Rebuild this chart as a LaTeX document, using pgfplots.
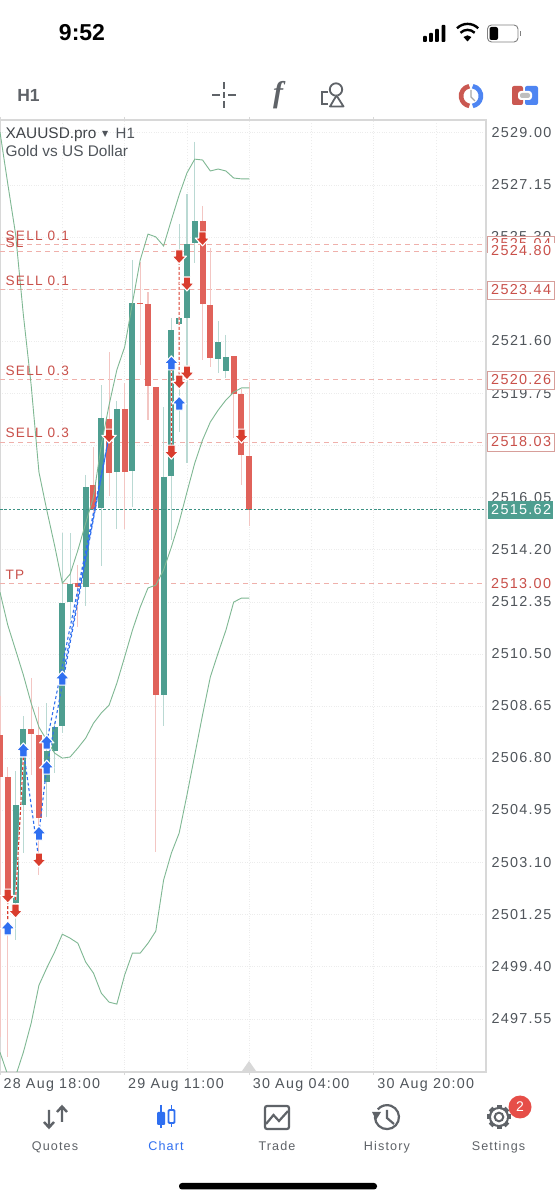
\documentclass[border=0pt]{standalone}
\usepackage{pgfplots}
\usepackage{fontspec}
\pgfplotsset{compat=1.18}
\setmainfont{Liberation Sans}
\newfontfamily\spaced[LetterSpace=9]{Liberation Sans}
\newfontfamily\dejavu{DejaVu Sans}
\newfontfamily\serifit{Liberation Serif}
\definecolor{cgreen}{HTML}{4E9E90}
\definecolor{cred}{HTML}{E0625A}
\definecolor{wgreen}{HTML}{BAD9D3}
\definecolor{wred}{HTML}{F3C6C3}
\definecolor{band}{HTML}{7FB893}
\definecolor{lastp}{HTML}{3D9284}
\definecolor{arrred}{HTML}{D93D2E}
\definecolor{arrblue}{HTML}{2F6FF0}
\definecolor{lab}{HTML}{C9504A}
\definecolor{dashc}{HTML}{EFB0AB}
\definecolor{txt}{HTML}{50555B}
\definecolor{ui}{HTML}{5F6368}
\definecolor{framec}{HTML}{D8D8D8}
\definecolor{gridc}{HTML}{ECECEC}
\pgfdeclareplotmark{arrdown}{%
  \pgfsetlinewidth{1.1pt}\pgfsetroundjoin
  \pgfpathmoveto{\pgfqpoint{-3.7pt}{7pt}}\pgfpathlineto{\pgfqpoint{3.7pt}{7pt}}
  \pgfpathlineto{\pgfqpoint{3.7pt}{0.8pt}}\pgfpathlineto{\pgfqpoint{7.2pt}{0.8pt}}
  \pgfpathlineto{\pgfqpoint{0pt}{-7pt}}\pgfpathlineto{\pgfqpoint{-7.2pt}{0.8pt}}
  \pgfpathlineto{\pgfqpoint{-3.7pt}{0.8pt}}\pgfpathclose\pgfusepathqfillstroke}
\pgfdeclareplotmark{arrup}{%
  \pgfsetlinewidth{1.1pt}\pgfsetroundjoin
  \pgfpathmoveto{\pgfqpoint{-3.7pt}{-7pt}}\pgfpathlineto{\pgfqpoint{3.7pt}{-7pt}}
  \pgfpathlineto{\pgfqpoint{3.7pt}{-0.8pt}}\pgfpathlineto{\pgfqpoint{7.2pt}{-0.8pt}}
  \pgfpathlineto{\pgfqpoint{0pt}{7pt}}\pgfpathlineto{\pgfqpoint{-7.2pt}{-0.8pt}}
  \pgfpathlineto{\pgfqpoint{-3.7pt}{-0.8pt}}\pgfpathclose\pgfusepathqfillstroke}
% wicks: x y, pairs separated by nan
\pgfplotstableread{
x y
2 2506.35
2 2500.35
nan nan
3 2508.30
3 2503.44
nan nan
6 2508.76
6 2504.72
nan nan
7 2508.10
7 2506.28
nan nan
8 2514.80
8 2507.70
nan nan
9 2514.80
9 2511.71
nan nan
11 2516.86
11 2512.21
nan nan
13 2520.05
13 2513.63
nan nan
15 2519.50
15 2514.94
nan nan
17 2524.49
17 2515.72
nan nan
21 2519.27
21 2507.95
nan nan
22 2522.43
22 2514.55
nan nan
23 2525.77
23 2518.38
nan nan
24 2526.83
24 2517.28
nan nan
25 2528.68
25 2524.38
nan nan
28 2522.32
28 2520.48
nan nan
29 2521.83
29 2520.30
}\wickgreen
\pgfplotstableread{
x y
0 2509.00
0 2496.90
nan nan
1 2506.49
1 2496.20
nan nan
4 2509.65
4 2506.21
nan nan
5 2508.62
5 2502.66
nan nan
10 2513.65
10 2511.46
nan nan
12 2517.85
12 2515.44
nan nan
14 2521.22
14 2516.11
nan nan
16 2520.12
16 2514.94
nan nan
18 2524.42
18 2520.76
nan nan
19 2523.35
19 2518.81
nan nan
20 2519.98
20 2503.47
nan nan
26 2526.41
26 2520.94
nan nan
27 2524.92
27 2520.69
nan nan
30 2521.08
30 2518.17
nan nan
31 2519.90
31 2516.50
nan nan
32 2520.16
32 2515.05
}\wickred
\pgfplotstableread{
x y
2 2505.14
2 2501.66
nan nan
3 2507.84
3 2505.14
nan nan
6 2507.06
6 2505.96
nan nan
7 2507.91
7 2507.06
nan nan
8 2512.31
8 2507.95
nan nan
9 2512.99
9 2512.35
nan nan
11 2516.43
11 2512.88
nan nan
13 2518.88
13 2515.69
nan nan
15 2519.20
15 2516.96
nan nan
17 2522.96
17 2517.00
nan nan
21 2516.79
21 2509.05
nan nan
22 2522.00
22 2516.82
nan nan
23 2522.43
23 2522.22
nan nan
24 2525.06
24 2522.43
nan nan
25 2525.87
25 2525.09
nan nan
28 2521.58
28 2520.98
nan nan
29 2521.05
29 2520.55
}\bodygreen
\pgfplotstableread{
x y
0 2507.63
0 2506.14
nan nan
1 2506.14
1 2502.13
nan nan
4 2507.84
4 2507.66
nan nan
5 2507.63
5 2504.68
nan nan
10 2513.02
10 2512.88
nan nan
12 2516.50
12 2515.65
nan nan
14 2518.85
14 2516.93
nan nan
16 2519.20
16 2516.96
nan nan
18 2522.96
18 2522.93
nan nan
19 2522.93
19 2520.02
nan nan
20 2519.98
20 2509.05
nan nan
26 2525.87
26 2522.93
nan nan
27 2522.89
27 2521.01
nan nan
30 2521.08
30 2519.73
nan nan
31 2519.73
31 2517.57
nan nan
32 2517.53
32 2515.62
}\bodyred
\pgfplotstableread{
i upper middle lower
0 2529.03 2512.70 2496.37
1 2527.19 2511.53 2495.56
2 2525.41 2510.65 2495.52
3 2522.54 2509.76 2496.37
4 2520.05 2508.76 2497.40
5 2516.96 2507.91 2498.75
6 2515.62 2507.45 2499.36
7 2514.37 2506.99 2499.92
8 2513.02 2506.81 2500.56
9 2513.34 2506.85 2500.42
10 2514.19 2507.17 2500.24
11 2515.15 2507.52 2499.57
12 2516.08 2508.05 2499.18
13 2517.92 2508.41 2498.47
14 2519.34 2508.69 2498.15
15 2520.59 2509.47 2498.08
16 2521.40 2510.40 2499.11
17 2522.96 2511.35 2499.89
18 2524.49 2512.17 2499.89
19 2525.41 2512.85 2500.24
20 2525.31 2512.95 2500.67
21 2524.99 2513.49 2502.48
22 2525.91 2514.30 2503.44
23 2526.80 2515.19 2504.15
24 2527.58 2516.25 2505.50
25 2528.07 2517.28 2506.92
26 2528.04 2518.10 2508.34
27 2527.65 2518.74 2509.69
28 2527.72 2519.16 2510.54
29 2527.65 2519.52 2511.35
30 2527.40 2519.80 2512.35
31 2527.37 2519.95 2512.49
32 2527.37 2519.95 2512.49
}\bands
\pgfplotstableread{
x y
1 2501.91
1 2500.78
nan nan
3 2506.85
2 2501.77
nan nan
23 2524.60
23 2520.16
nan nan
22 2520.84
22 2517.67
}\tradered
\pgfplotstableread{
x y
3 2507.10
5 2503.19
nan nan
5 2504.15
6 2506.49
nan nan
6 2507.38
14 2518.24
nan nan
6 2506.49
14 2518.24
nan nan
8 2509.65
14 2518.24
}\tradeblue
\pgfplotstableread{
x y
23 2524.60
24 2523.64
26 2525.24
24 2520.48
23 2520.16
14 2518.24
22 2517.67
31 2518.24
1 2501.91
2 2501.38
5 2503.19
}\marksred
\pgfplotstableread{
x y
22 2520.84
23 2519.41
3 2507.10
5 2504.15
6 2507.38
6 2506.49
1 2500.78
8 2509.65
}\marksblue
\begin{document}
\begin{tikzpicture}[x=1pt,y=1pt]
\useasboundingbox (0,0) rectangle (555,1200);
\fill[white] (0,0) rectangle (555,1200);
\begin{axis}[
  at={(0pt,128pt)},anchor=south west,scale only axis,
  width=486pt,height=952pt,
  xmin=0,xmax=62.39,ymin=2495.67,ymax=2529.46,
  clip=true,unbounded coords=jump,
  axis line style={draw=framec,line width=1.8pt},
  xtick={0,16,32,48},
  xticklabels={28 Aug 18:00,29 Aug 11:00,30 Aug 04:00,30 Aug 20:00},
  minor xtick={8,24,40,56},
  minor tick length=0pt,
  xminorgrids,
  minor grid style={draw=gridc,dotted,line width=0.9pt},
  ytick={2529.00,2527.15,2525.30,2523.45,2521.60,2519.75,2517.90,2516.05,2514.20,2512.35,2510.50,2508.65,2506.80,2504.95,2503.10,2501.25,2499.40,2497.55},
  yticklabel pos=right,
  ymajorgrids,xmajorgrids,
  grid style={draw=gridc,dotted,line width=0.9pt},
  x tick label style={font=\spaced\fontsize{14.3}{15}\selectfont,text=txt,anchor=north west,xshift=0pt,yshift=-1pt,inner ysep=2pt},
  y tick label style={font=\spaced\fontsize{14.4}{15}\selectfont,text=txt,anchor=west,xshift=-1pt,yshift=0.5pt},
  yticklabel style={/pgf/number format/fixed,/pgf/number format/fixed zerofill,/pgf/number format/precision=2,/pgf/number format/1000 sep={},/pgf/number format/assume math mode=true},
  ytick style={draw=none},
  xtick style={draw=framec,line width=1pt},
  major tick length=3pt,tick align=outside,
]
% price lines
\addplot[dashc,dash pattern=on 5pt off 4pt,line width=0.9pt] coordinates {(0,2525.04)(62.39,2525.04)};
\addplot[dashc,dash pattern=on 5pt off 4pt,line width=0.9pt] coordinates {(0,2524.80)(62.39,2524.80)};
\addplot[dashc,dash pattern=on 5pt off 4pt,line width=0.9pt] coordinates {(0,2523.44)(62.39,2523.44)};
\addplot[dashc,dash pattern=on 5pt off 4pt,line width=0.9pt] coordinates {(0,2520.26)(62.39,2520.26)};
\addplot[dashc,dash pattern=on 5pt off 4pt,line width=0.9pt] coordinates {(0,2518.03)(62.39,2518.03)};
\addplot[dashc,dash pattern=on 5pt off 4pt,line width=0.9pt] coordinates {(0,2513.00)(62.39,2513.00)};
% wicks
\addplot[wgreen,line width=1.1pt] table {\wickgreen};
\addplot[wred,line width=1.1pt] table {\wickred};
% bodies
\addplot[cgreen,line width=6pt] table {\bodygreen};
\addplot[cred,line width=6pt] table {\bodyred};
% bands
\addplot[band,line width=0.9pt] table[x=i,y=upper] {\bands};
\addplot[band,line width=0.9pt] table[x=i,y=middle] {\bands};
\addplot[band,line width=0.9pt] table[x=i,y=lower] {\bands};
% last price
\addplot[lastp,dash pattern=on 2.5pt off 1.8pt,line width=1pt] coordinates {(0,2515.62)(62.39,2515.62)};
% trades
\addplot[white,line width=1.6pt] table {\tradered};
\addplot[arrred,dash pattern=on 3pt off 2pt,line width=1.1pt] table {\tradered};
\addplot[arrblue,dash pattern=on 3pt off 2.5pt,line width=1.1pt] table {\tradeblue};
\addplot[only marks,mark=arrup,mark options={fill=arrblue,draw=white}] table {\marksblue};
\addplot[only marks,mark=arrdown,mark options={fill=arrred,draw=white}] table {\marksred};
\end{axis}
\begin{scope}[shift={(0pt,1200pt)},y=-1pt]
  % chart header
  \node[anchor=base west,inner sep=0,text=txt!80!black,font=\fontsize{15.4}{16}\selectfont] at (5.5,138.5) {XAUUSD.pro};
  \node[anchor=base west,inner sep=0,text=txt,font=\dejavu\fontsize{8}{9}\selectfont] at (102,137) {▼};
  \node[anchor=base west,inner sep=0,text=txt,font=\fontsize{15}{16}\selectfont] at (115.5,138.5) {H1};
  \node[anchor=base west,inner sep=0,text=txt,font=\fontsize{15.4}{16}\selectfont] at (5.5,156.5) {Gold vs US Dollar};
  % order labels
  \foreach \yy/\lbl in {241/SELL 0.1,286/SELL 0.1,375.5/SELL 0.3,438/SELL 0.3,580/TP}{
    \node[anchor=base west,inner sep=0,text=lab,font=\spaced\fontsize{13.6}{15}\selectfont] at (5.5,\yy) {\lbl};}
  \node[anchor=base west,inner sep=0,text=lab,font=\spaced\fontsize{13.6}{15}\selectfont] at (5.5,248) {SL};
  % price boxes
  \fill[white] (488,230) rectangle (555,262);
  \node[anchor=west,inner sep=0,text=txt,font=\spaced\fontsize{14.4}{15}\selectfont] at (491,237) {2525.30};
  \draw[dashc!90!black,fill=white,line width=0.7pt] (487.5,236) rectangle (554,252);
  \begin{scope}
    \clip (488,236) rectangle (555,243.5);
    \node[anchor=west,inner sep=0,text=lab,font=\spaced\fontsize{14.4}{15}\selectfont] at (491,244) {2525.04};
  \end{scope}
  \fill[white] (488,243.5) rectangle (555,262);
  \node[anchor=west,inner sep=0,text=lab,font=\spaced\fontsize{14.4}{15}\selectfont] at (491,251) {2524.80};
  \foreach \yy/\lbl in {290/2523.44,380/2520.26,442/2518.03}{
    \draw[dashc!90!black,fill=white,line width=0.7pt] (487.5,\yy-9) rectangle (554.5,\yy+9);
    \node[anchor=west,inner sep=0,text=lab,font=\spaced\fontsize{14.4}{15}\selectfont] at (491,\yy) {\lbl};}
  \fill[white] (488,575) rectangle (555,593);
  \node[anchor=west,inner sep=0,text=lab,font=\spaced\fontsize{14.4}{15}\selectfont] at (491,584) {2513.00};
  \fill[cgreen] (487.5,501) rectangle (553,519);
  \node[anchor=west,inner sep=0,text=white,font=\spaced\fontsize{14.4}{15}\selectfont] at (491,510) {2515.62};
  % triangle
  \fill[framec] (249,1061) -- (256,1071) -- (242,1071) -- cycle;
  % status bar
  \node[anchor=center,inner sep=0,text=black,font=\bfseries\fontsize{23}{24}\selectfont] at (82,33) {9:52};
  \foreach \xx/\hh in {423/6,429/9,435/13,441.5/17}{\fill[black,rounded corners=0.8pt] (\xx,42)rectangle(\xx+3.8,42-\hh);}
  % wifi
  \fill[black] (467.5,41.5) -- (463.5,37) arc[start angle=225,end angle=315,radius=5.6] -- cycle;
  \draw[black,line width=2.4pt] (460.5,32.8) arc[start angle=225,end angle=315,radius=10];
  \draw[black,line width=2.4pt] (457,28.3) arc[start angle=225,end angle=315,radius=15];
  % battery
  \draw[gray,line width=0.9pt,rounded corners=4pt] (487.5,25)rectangle(518,42);
  \fill[black,rounded corners=2pt] (489.5,27)rectangle(498,40);
  \fill[gray] (519.5,31)rectangle(520.5,36);
  % toolbar
  \node[anchor=center,inner sep=0,text=ui,font=\bfseries\fontsize{17.5}{18}\selectfont] at (28.5,95) {H1};
  \draw[ui,line width=1.8pt] (212,95)--(220,95) (228,95)--(236,95) (224,82.5)--(224,89) (224,92)--(224,98) (224,101)--(224,108);
  \node[anchor=center,inner sep=0,text=ui,font=\serifit\bfseries\itshape\fontsize{30}{31}\selectfont] at (278,95) {f};
  \draw[ui,line width=1.8pt] (328,92)--(322,92)--(322,104)--(328,104);
  \draw[ui,line width=1.8pt] (336,89.5) circle[radius=6.2];
  \fill[white] (336.5,94) -- (345,107.5) -- (328.5,107.5) -- cycle;
  \draw[ui,line width=1.8pt,line join=round] (330,106.5)--(336.5,95.5)--(343.5,106.5)--cycle;
  % clock icon
  \draw[arrblue!85!white,line width=4.6pt] (472.7,86.2) arc[start angle=-80,end angle=80,radius=10];
  \draw[cred!90!black,line width=4.6pt] (469.3,86.2) arc[start angle=260,end angle=100,radius=10];
  \draw[gray!70,line width=1.2pt] (471,90)--(471,97)--(475,101);
  % right icon
  \fill[cred!90!black,rounded corners=2pt] (512,86)--(523,86)--(523,105)--(512,105)--cycle;
  \fill[arrblue!85!white,rounded corners=2pt] (525,86)--(538,86)--(538,105)--(525,105)--cycle;
  \fill[white,rounded corners=3pt] (518,91)rectangle(532,100);
  \fill[gray!50,rounded corners=2pt] (520,93)rectangle(530,98);
  % tab bar icons
  \draw[ui,line width=2.4pt] (49,1110)--(49,1127) (44,1122)--(49,1127.5)--(54,1122);
  \draw[ui,line width=2.4pt] (62,1122)--(62,1107) (57,1112)--(62,1106.5)--(67,1112);
  \draw[arrblue,line width=1.6pt] (161,1105)--(161,1128) (171.5,1105)--(171.5,1127);
  \fill[arrblue,rounded corners=1pt] (157,1112)rectangle(165,1125);
  \fill[white] (168.5,1110) rectangle (174.5,1123);
  \draw[arrblue,line width=1.8pt,rounded corners=1pt] (168.5,1110)rectangle(174.5,1123);
  \draw[ui,line width=2.2pt,rounded corners=2pt] (265,1106)rectangle(289,1129);
  \draw[ui,line width=2.2pt] (266,1124)--(273.5,1115)--(279,1121)--(288,1111);
  \draw[ui,line width=2.2pt] (375.7,1113) arc[start angle=200,end angle=-140,radius=12];
  \fill[ui] (372,1112)--(381,1112)--(376,1120)--cycle;
  \draw[ui,line width=2.2pt] (387,1110)--(387,1118)--(394,1124);
  \foreach \a in {0,45,...,315}{
    \fill[ui,rotate around={\a:(499,1117)}] (496.5,1105) rectangle (501.5,1110);}
  \draw[ui,line width=2.2pt] (499,1117) circle[radius=9];
  \fill[white] (499,1117) circle[radius=7.9];
  \draw[ui,line width=2pt] (499,1117) circle[radius=4.3];
  \fill[cred!80!red] (520,1107) circle[radius=11.5];
  \node[text=white,inner sep=0,font=\fontsize{14}{15}\selectfont] at (520,1107) {2};
  % tab labels
  \foreach \xx/\lbl in {55/Quotes,277/Trade,387/History,498.5/Settings}{
    \node[anchor=base,inner sep=0,text=ui,font=\spaced\fontsize{12.6}{14}\selectfont] at (\xx,1151) {\lbl};}
  \node[anchor=base,inner sep=0,text=arrblue,font=\spaced\fontsize{12.6}{14}\selectfont] at (166,1151) {Chart};
  % home bar
  \fill[black,rounded corners=3pt] (179,1183)rectangle(377,1189.5);
\end{scope}
\end{tikzpicture}
\end{document}
